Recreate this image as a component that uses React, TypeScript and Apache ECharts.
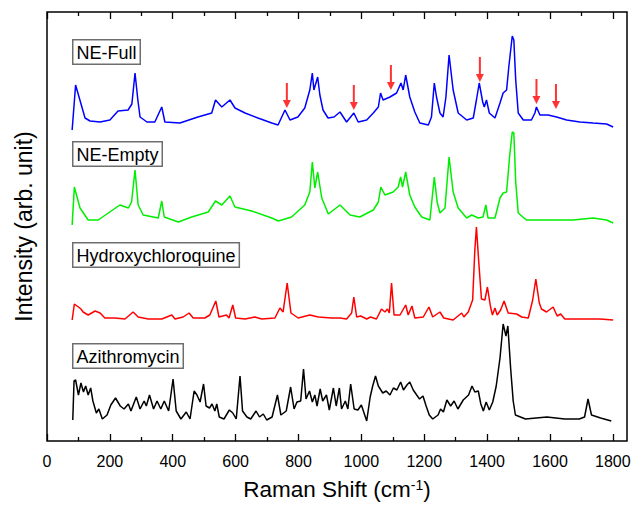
import React, { useEffect, useRef } from "react";
import * as echarts from "echarts";

// Raman shift (cm-1) / intensity (arb. unit, stacked with offsets)
const NE_FULL: [number, number][] = [
  [80, 311], [91, 356], [121, 323], [137, 320], [169, 319], [200, 321], [226, 330], [258, 331], [270, 337],
  [280, 368], [289, 341], [296, 324], [318, 319], [343, 319], [365, 334], [375, 319], [423, 318], [480, 324],
  [524, 328], [536, 341], [556, 334], [582, 341], [598, 333], [630, 328], [671, 323], [715, 318], [735, 316],
  [757, 331], [773, 321], [798, 324], [820, 333], [836, 351], [844, 368], [849, 351], [861, 364], [868, 346],
  [878, 331], [894, 323], [913, 324], [932, 329], [953, 319], [976, 328], [990, 319], [1017, 321], [1038, 328],
  [1054, 334], [1061, 348], [1069, 341], [1091, 344], [1112, 348], [1126, 358], [1133, 351], [1141, 366],
  [1154, 344], [1170, 329], [1186, 318], [1213, 316], [1223, 324], [1232, 358], [1239, 344], [1250, 328],
  [1260, 324], [1269, 344], [1279, 386], [1292, 351], [1308, 328], [1335, 321], [1356, 323], [1366, 341],
  [1375, 358], [1386, 339], [1391, 334], [1398, 341], [1407, 328], [1425, 323], [1441, 338], [1451, 348],
  [1462, 351], [1469, 374], [1480, 405], [1485, 401], [1491, 361], [1499, 328], [1515, 321], [1541, 321],
  [1552, 328], [1557, 334], [1568, 326], [1594, 326], [1621, 324], [1653, 321], [1695, 319], [1737, 318],
  [1780, 317], [1801, 314],
];

const NE_EMPTY: [number, number][] = [
  [80, 216], [87, 254], [105, 233], [131, 221], [163, 221], [195, 228], [232, 236], [259, 233], [269, 239],
  [280, 271], [290, 236], [306, 226], [354, 223], [365, 240], [373, 224], [418, 219], [460, 224], [513, 229],
  [536, 240], [556, 236], [582, 245], [598, 234], [651, 230], [715, 223], [736, 220], [778, 224], [820, 236],
  [836, 249], [844, 279], [852, 253], [861, 269], [874, 243], [895, 227], [932, 236], [964, 226], [995, 224],
  [1038, 231], [1054, 239], [1062, 254], [1075, 246], [1101, 249], [1117, 254], [1125, 264], [1131, 254],
  [1141, 269], [1154, 246], [1170, 234], [1192, 224], [1218, 221], [1232, 264], [1241, 239], [1250, 228],
  [1266, 233], [1279, 284], [1292, 249], [1308, 233], [1335, 223], [1351, 226], [1372, 223], [1387, 224],
  [1396, 236], [1403, 223], [1425, 223], [1441, 243], [1451, 248], [1462, 249], [1472, 286], [1480, 309],
  [1485, 308], [1491, 259], [1499, 228], [1525, 221], [1589, 221], [1674, 221], [1737, 223], [1780, 221],
  [1801, 218],
];

const HYDROXYCHLOROQUINE: [number, number][] = [
  [80, 121], [87, 137], [100, 134], [108, 132], [115, 129], [131, 126], [153, 130], [169, 128], [184, 123],
  [216, 123], [248, 122], [274, 129], [290, 124], [322, 122], [365, 122], [397, 126], [407, 122], [433, 124],
  [452, 128], [465, 123], [502, 123], [518, 126], [537, 140], [547, 124], [571, 126], [579, 123], [591, 136],
  [600, 123], [630, 122], [661, 124], [683, 122], [725, 123], [741, 133], [751, 129], [764, 158], [776, 128],
  [799, 123], [836, 126], [863, 124], [905, 123], [932, 123], [953, 122], [969, 128], [976, 144], [985, 124],
  [998, 125], [1017, 122], [1029, 124], [1048, 122], [1064, 132], [1075, 129], [1083, 132], [1089, 128],
  [1096, 158], [1104, 126], [1123, 126], [1141, 136], [1149, 126], [1161, 135], [1170, 123], [1197, 124],
  [1215, 134], [1227, 124], [1250, 129], [1262, 123], [1292, 121], [1319, 128], [1326, 124], [1340, 129],
  [1354, 141], [1361, 191], [1366, 214], [1373, 181], [1382, 142], [1393, 141], [1401, 154], [1411, 134],
  [1417, 126], [1425, 133], [1432, 126], [1443, 131], [1454, 140], [1467, 128], [1494, 127], [1510, 124],
  [1531, 123], [1545, 141], [1555, 162], [1566, 138], [1573, 132], [1589, 129], [1610, 134], [1623, 125],
  [1634, 127], [1647, 122], [1695, 122], [1759, 122], [1801, 121],
];

const AZITHROMYCIN: [number, number][] = [
  [82, 21], [86, 60], [91, 61], [100, 46], [108, 58], [116, 49], [123, 55], [131, 46], [139, 53], [146, 40],
  [157, 28], [165, 32], [176, 22], [191, 26], [203, 36], [218, 43], [233, 35], [245, 32], [259, 37], [267, 30],
  [284, 44], [296, 32], [309, 40], [316, 35], [326, 46], [339, 32], [350, 40], [362, 32], [373, 40], [387, 30],
  [401, 62], [411, 30], [426, 22], [443, 29], [455, 22], [468, 50], [477, 46], [487, 39], [498, 57], [506, 35],
  [517, 33], [525, 37], [534, 30], [540, 37], [548, 24], [563, 22], [580, 31], [591, 28], [602, 22], [614, 65],
  [622, 30], [636, 24], [648, 22], [665, 30], [676, 24], [688, 27], [699, 21], [716, 24], [733, 46], [744, 26],
  [761, 30], [775, 54], [786, 32], [795, 39], [807, 40], [816, 72], [824, 42], [835, 50], [844, 39], [852, 46],
  [859, 35], [869, 52], [877, 40], [889, 46], [898, 31], [911, 53], [920, 35], [930, 53], [937, 32], [949, 40],
  [957, 32], [966, 57], [977, 32], [989, 31], [1000, 36], [1017, 20], [1028, 44], [1036, 55], [1045, 65],
  [1054, 55], [1068, 48], [1079, 50], [1091, 46], [1102, 53], [1113, 51], [1125, 59], [1134, 51], [1145, 56],
  [1154, 59], [1165, 51], [1176, 46], [1185, 42], [1196, 45], [1206, 35], [1216, 26], [1227, 22], [1244, 26],
  [1252, 32], [1261, 29], [1272, 41], [1284, 35], [1295, 40], [1307, 32], [1324, 41], [1341, 46], [1352, 55],
  [1361, 49], [1372, 50], [1380, 37], [1388, 30], [1397, 39], [1407, 31], [1418, 39], [1429, 55], [1441, 83],
  [1451, 117], [1460, 105], [1466, 115], [1475, 72], [1483, 40], [1490, 26], [1522, 22], [1590, 24], [1647, 22],
  [1693, 22], [1710, 24], [1721, 42], [1732, 26], [1761, 23], [1795, 20],
];

// Red arrows marking NE-Full peaks: [shift, tip intensity]
const ARROWS: [number, number][] = [
  [763, 333], [976, 331], [1094, 351], [1377, 359], [1557, 337], [1619, 332],
];

const X_MAJOR = [0, 200, 400, 600, 800, 1000, 1200, 1400, 1600, 1800];
const X_MINOR = [100, 300, 500, 700, 900, 1100, 1300, 1500, 1700];
const X_MIN = 0;
const X_MAX = 1845;
const Y_MIN = 0;
const Y_MAX = 429;

const SERIES_NAMES = ["NE-Full", "NE-Empty", "Hydroxychloroquine", "Azithromycin"];
const SERIES_COLORS = ["#0000ff", "#00ee00", "#ff0000", "#000000"];

const FONT = "'Liberation Sans', Arial, sans-serif";

export default function App() {
  const ref = useRef<HTMLDivElement>(null);

  useEffect(() => {
    if (!ref.current) return;
    const chart = echarts.init(ref.current, null, { renderer: "svg" });

    const baseX = {
      type: "value" as const,
      min: X_MIN,
      max: X_MAX,
      axisLine: { show: false },
      splitLine: { show: false },
    };

    const xAxes = [
      {
        ...baseX,
        position: "bottom",
        axisTick: { show: true, inside: true, length: 7, customValues: X_MAJOR, lineStyle: { color: "#000", width: 1.3 } },
        axisLabel: {
          show: true,
          customValues: X_MAJOR,
          fontSize: 16,
          color: "#000",
          fontFamily: FONT,
          margin: 12,
          formatter: (v: number) => String(v),
        },
        name: "{t|Raman Shift (cm}{s|-1}{t|)}",
        nameLocation: "middle",
        nameGap: 37,
        nameTextStyle: {
          rich: {
            t: { fontSize: 22.5, fontFamily: FONT, color: "#000" },
            s: { fontSize: 14, fontFamily: FONT, color: "#000", verticalAlign: "top" },
          },
        },
      },
      {
        ...baseX,
        position: "bottom",
        axisTick: { show: true, inside: true, length: 4, customValues: X_MINOR, lineStyle: { color: "#000", width: 1.3 } },
        axisLabel: { show: false },
      },
      {
        ...baseX,
        position: "top",
        axisTick: { show: true, inside: true, length: 7, customValues: X_MAJOR, lineStyle: { color: "#000", width: 1.3 } },
        axisLabel: { show: false },
      },
      {
        ...baseX,
        position: "top",
        axisTick: { show: true, inside: true, length: 4, customValues: X_MINOR, lineStyle: { color: "#000", width: 1.3 } },
        axisLabel: { show: false },
      },
    ];

    const datasets = [NE_FULL, NE_EMPTY, HYDROXYCHLOROQUINE, AZITHROMYCIN];

    const lineSeries = datasets.map((d, i) => ({
      name: SERIES_NAMES[i],
      type: "line" as const,
      xAxisIndex: 0,
      yAxisIndex: 0,
      data: d,
      showSymbol: false,
      symbol: "none",
      lineStyle: { color: SERIES_COLORS[i], width: 1.5 },
      silent: true,
    }));

    const labelTops = [39, 141, 242, 343];
    const graphics = SERIES_NAMES.map((n, i) => ({
      type: "text",
      left: 72,
      top: labelTops[i],
      z: 100,
      style: {
        text: n,
        font: `18px ${FONT}`,
        fill: "#000",
        backgroundColor: "#fff",
        borderColor: "#6e6e6e",
        borderWidth: 1.5,
        padding: [3, 3, 2, 3],
      },
    }));

    chart.setOption({
      animation: false,
      backgroundColor: "#fff",
      grid: {
        left: 47,
        right: 7,
        top: 12,
        bottom: 66,
        show: true,
        borderColor: "#000",
        borderWidth: 1.5,
        backgroundColor: "transparent",
      },
      xAxis: xAxes,
      yAxis: {
        type: "value",
        min: Y_MIN,
        max: Y_MAX,
        axisLine: { show: false },
        axisTick: { show: false },
        axisLabel: { show: false },
        splitLine: { show: false },
        name: "Intensity (arb. unit)",
        nameLocation: "middle",
        nameGap: 12,
        nameTextStyle: { fontSize: 23, fontFamily: FONT, color: "#000" },
      },
      graphic: graphics,
      series: [
        ...lineSeries,
        {
          name: "arrows",
          type: "scatter",
          xAxisIndex: 0,
          yAxisIndex: 0,
          data: ARROWS,
          symbol: "path://M3,0L5,0L5,17L8,17L4,25L0,17L3,17Z",
          symbolSize: [8, 25],
          symbolOffset: [0, -12.5],
          itemStyle: { color: "#ff0000" },
          silent: true,
          z: 10,
        },
      ],
    });

    return () => chart.dispose();
  }, []);

  return (
    <div
      ref={ref}
      style={{ position: "fixed", left: 0, top: 0, width: 634, height: 507, background: "#fff" }}
    />
  );
}
